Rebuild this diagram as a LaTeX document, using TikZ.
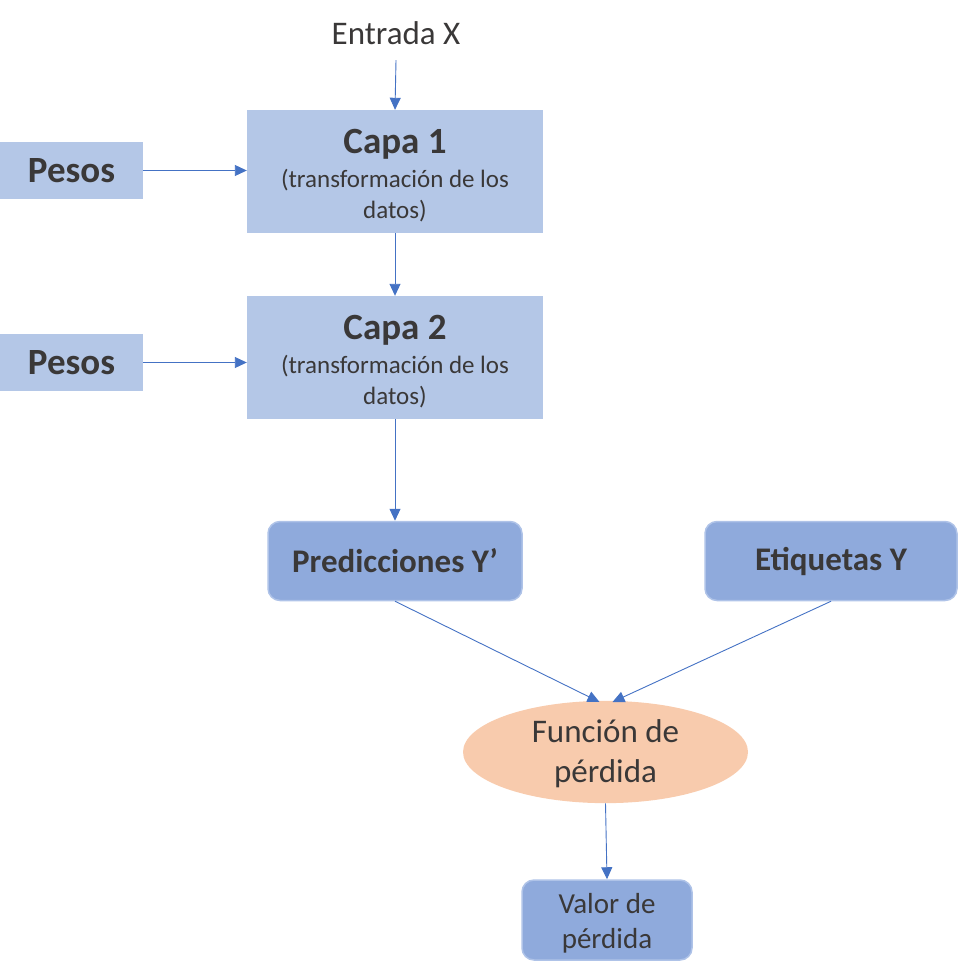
\documentclass[tikz,border=0pt]{standalone}
\usepackage{fontspec}
\setmainfont{Carlito}
\usetikzlibrary{arrows.meta,shapes.geometric}
\definecolor{txt}{HTML}{3A3838}
\definecolor{lightblue}{HTML}{B4C7E7}
\definecolor{midblue}{HTML}{8FAADC}
\definecolor{edgeblue}{HTML}{AFC3E8}
\definecolor{arrowblue}{HTML}{4472C4}
\definecolor{peach}{HTML}{F8CBAD}
\newcommand{\fs}[2]{\fontsize{#1}{#2}\selectfont}
\tikzset{
  layerbox/.style={rectangle, fill=lightblue, minimum width=296pt, minimum height=123pt,
    inner sep=0pt, align=center, text=txt, font=\fs{25}{31}},
  weightbox/.style={rectangle, fill=lightblue, minimum width=143pt, minimum height=57pt,
    inner sep=0pt, text=txt, font=\fs{37}{44}\bfseries},
  outbox/.style={rectangle, rounded corners=12pt, fill=midblue, draw=edgeblue, line width=1.5pt,
    inner sep=0pt, text=txt, align=center},
  lossnode/.style={ellipse, fill=peach, minimum width=285pt, minimum height=102pt,
    inner sep=0pt, align=center, text=txt, font=\fs{33}{40}},
  flow/.style={draw=arrowblue, line width=0.9pt,
    -{Triangle[length=12pt,width=11pt]}},
}
\begin{document}
\begin{tikzpicture}[x=1pt,y=-1pt]
\useasboundingbox (0,0) rectangle (958,974);

% input label
\node[text=txt, font=\fs{33}{40}, minimum height=54pt, inner sep=0pt] (entrada) at (396,33) {Entrada X};

% layers
\node[layerbox] (capa1) at (395,171.5)
  {\rule{0pt}{32pt}{\fs{37}{40}\bfseries Capa 1}\\[3pt](transformación de los\\datos)};
\node[layerbox] (capa2) at (395,357.5)
  {\rule{0pt}{32pt}{\fs{37}{40}\bfseries Capa 2}\\[3pt](transformación de los\\datos)};

% weights
\node[weightbox] (pesos1) at (71.5,170.5) {Pesos};
\node[weightbox] (pesos2) at (71.5,362.5) {Pesos};

% predictions and targets
\node[outbox, minimum width=254pt, minimum height=79pt, font=\fs{33}{40}\bfseries] (pred) at (395,561) {Predicciones Y’};
\node[outbox, minimum width=252pt, minimum height=79pt, font=\fs{33}{40}\bfseries] (etiq) at (831,561) {Etiquetas Y};

% loss function and loss value
\node[lossnode] (loss) at (605.5,752) {\rule{0pt}{27pt}Función de\\pérdida};
\node[outbox, minimum width=170pt, minimum height=80pt, font=\fs{29}{35}] (valor) at (607,920) {\rule{0pt}{26pt}Valor de\\pérdida};

\coordinate (inL) at (599.5,702);
\coordinate (inR) at (612.5,702);

% connectors
\draw[flow] (entrada.south) -- (capa1.north);
\draw[flow] (capa1.south) -- (capa2.north);
\draw[flow] (capa2.south) -- (pred.north);
\draw[flow] (pesos1.east) -- (capa1.west |- pesos1.east);
\draw[flow] (pesos2.east) -- (capa2.west |- pesos2.east);
\draw[flow] (pred.south) -- (inL);
\draw[flow] (etiq.south) -- (inR);
\draw[flow] (loss.south) -- (valor.north);
\end{tikzpicture}
\end{document}
